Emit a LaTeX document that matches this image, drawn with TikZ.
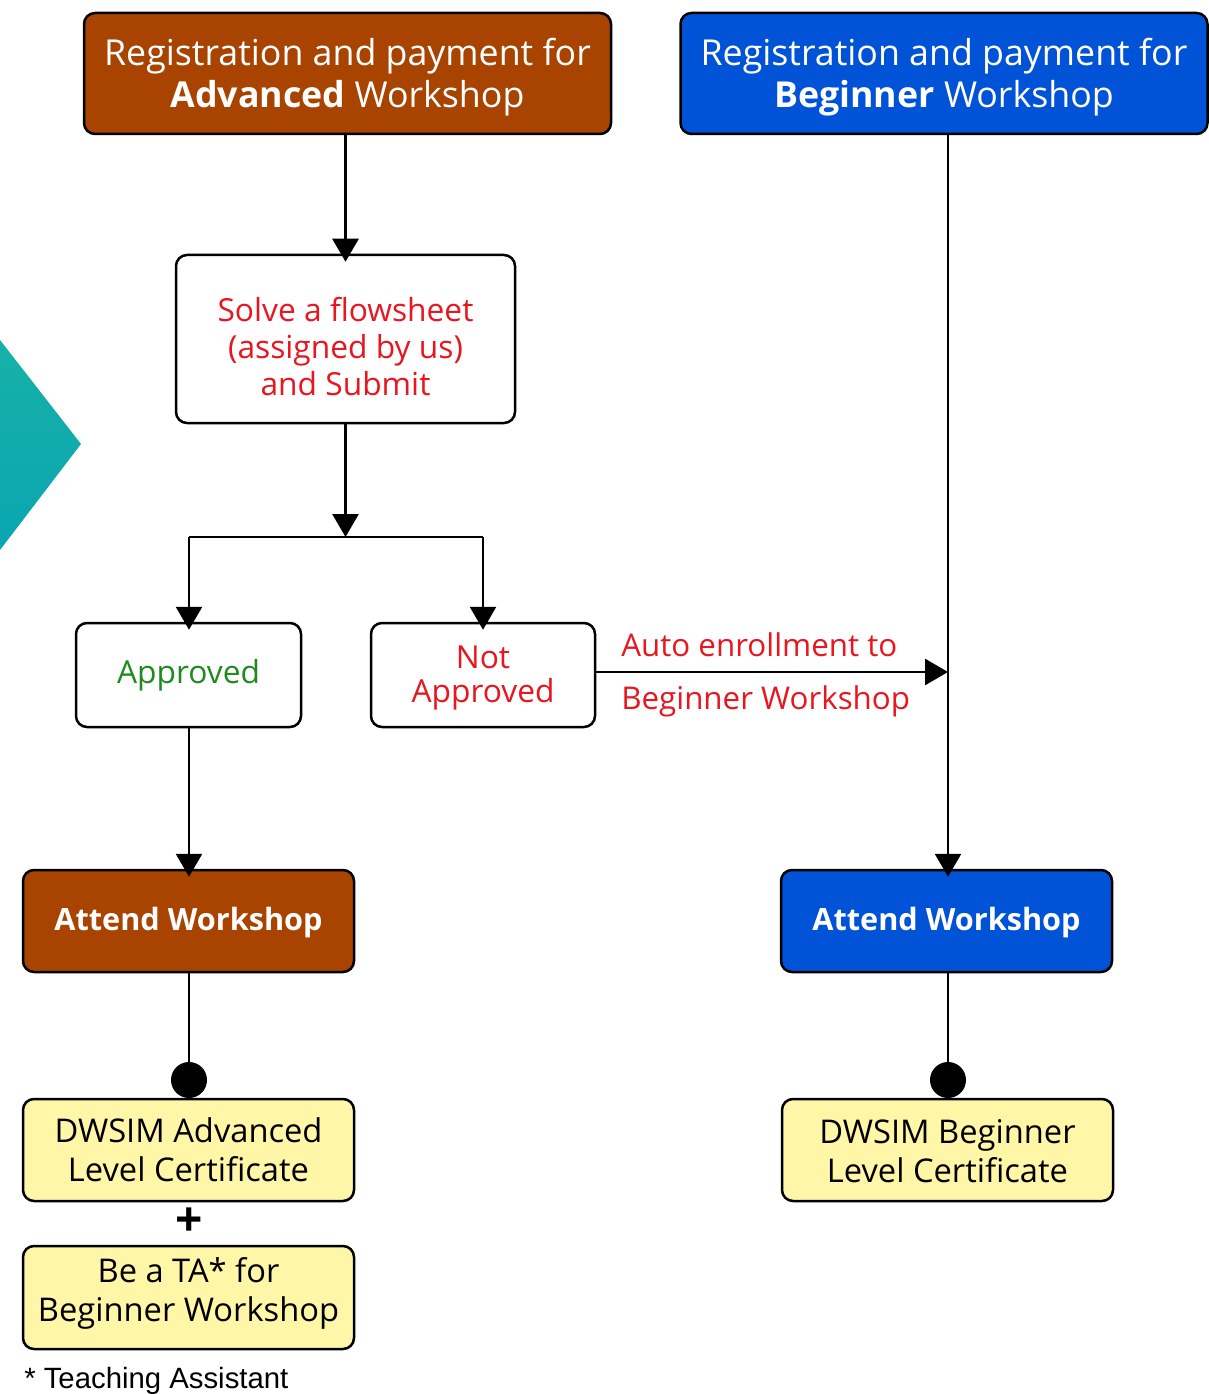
\documentclass[tikz,border=0pt]{standalone}
\usepackage{fontspec}
\setmainfont{Open Sans}
\newfontfamily\notefont{Liberation Sans}
\usetikzlibrary{arrows.meta}
\definecolor{advbrown}{HTML}{A84300}
\definecolor{begblue}{HTML}{0053D6}
\definecolor{certyellow}{HTML}{FFF6A8}
\definecolor{txtred}{HTML}{E8161E}
\definecolor{txtgreen}{HTML}{1F8B1F}
\definecolor{tealtop}{HTML}{16B1A6}
\definecolor{tealbot}{HTML}{0AA6B2}
\newcommand\pxu[1]{#1*0.75pt}
\newcommand\lowr[2]{\raisebox{-#1}[\height][\depth]{\begin{tabular}{@{}c@{}}#2\end{tabular}}}
\begin{document}
\begin{tikzpicture}[x=0.75pt,y=-0.75pt,
  box/.style={draw=black,line width=\pxu{2.5},rounded corners=\pxu{11},align=center,inner sep=0pt},
  titlebox/.style={box,minimum width=\pxu{527},minimum height=\pxu{121},text=white,font=\fontsize{26.8}{32}\selectfont},
  whitebox/.style={box,fill=white,font=\fontsize{23.8}{28}\selectfont},
  attendbox/.style={box,minimum width=\pxu{331},minimum height=\pxu{102},text=white,font=\fontsize{23}{27}\selectfont\bfseries},
  certbox/.style={box,fill=certyellow,minimum width=\pxu{331},minimum height=\pxu{102},font=\fontsize{24.5}{29}\selectfont},
  conn/.style={line width=\pxu{2.7},draw=black},
  arr/.style={conn,-{Triangle[width=\pxu{26},length=\pxu{23}]}},
  intobox/.style={arr,shorten >=-\pxu{8}},
  dot/.style={circle,fill=black,minimum size=\pxu{36},inner sep=0pt},
  lbl/.style={text=txtred,font=\fontsize{23.5}{27}\selectfont,inner sep=0pt,anchor=west}
]
\useasboundingbox (0,0) rectangle (1208,1394);
% teal decoration
\shade[top color=tealtop,bottom color=tealbot] (0,340) -- (81,444) -- (0,550) -- cycle;

\node[titlebox,fill=advbrown] (advreg) at (347.5,73.5) {\lowr{3.4pt}{Registration and payment for\\\textbf{Advanced} Workshop}};
\node[titlebox,fill=begblue] (begreg) at (944,73.5) {\lowr{3.4pt}{Registration and payment for\\\textbf{Beginner} Workshop}};

\node[whitebox,minimum width=\pxu{339},minimum height=\pxu{168},text=txtred] (solve) at (345.5,339) {\lowr{9pt}{Solve a flowsheet\\(assigned by us)\\and Submit}};

\coordinate (split) at (345.5,537);
\coordinate (splitL) at (189,537);
\coordinate (splitR) at (483,537);

\node[whitebox,minimum width=\pxu{225},minimum height=\pxu{104},text=txtgreen] (appr) at (188.5,675) {\lowr{0.5pt}{Approved}};
\node[whitebox,minimum width=\pxu{224},minimum height=\pxu{104},text=txtred,font=\fontsize{23.8}{25.5}\selectfont] (notappr) at (483,675) {\lowr{3pt}{Not\\Approved}};

\coordinate (merge) at (948,672);

\node[attendbox,fill=advbrown] (advatt) at (188.5,921) {\lowr{1.5pt}{Attend Workshop}};
\node[attendbox,fill=begblue] (begatt) at (946.5,921) {\lowr{1.5pt}{Attend Workshop}};

\node[dot] (dotA) at (189,1080) {};
\node[dot] (dotB) at (948,1080) {};

\node[certbox] (advcert) at (188.5,1150) {\lowr{3.4pt}{DWSIM Advanced\\Level Certificate}};
\node[font=\fontsize{36}{36}\selectfont\bfseries,inner sep=0pt] (plus) at (189,1222) {+};
\node[certbox,minimum height=\pxu{103}] (ta) at (188.5,1297.5) {\lowr{-2.2pt}{Be a TA* for\\Beginner Workshop}};
\node[certbox] (begcert) at (947.5,1150) {\lowr{4pt}{DWSIM Beginner\\Level Certificate}};

\node[font=\notefont\fontsize{22}{24}\selectfont,anchor=west,inner sep=0pt] (note) at (24,1381) {* Teaching Assistant};

\node[lbl] (lblA) at (621,645) {Auto enrollment to};
\node[lbl] (lblB) at (621,701) {Beginner Workshop};

% connectors
\draw[intobox] (advreg.south -| solve.north) -- (solve.north);
\draw[arr] (solve.south) -- (split);
\draw[conn] (splitL) -- (splitR);
\draw[intobox] (splitL) -- (appr.north -| splitL);
\draw[intobox] (splitR) -- (notappr.north);
\draw[arr] (notappr.east |- merge) -- (merge);
\draw[intobox] (begreg.south -| merge) -- (begatt.north -| merge);
\draw[intobox] (appr.south -| splitL) -- (advatt.north -| splitL);
\draw[conn] (advatt.south -| dotA) -- (dotA);
\draw[conn] (begatt.south -| dotB) -- (dotB);
\end{tikzpicture}
\end{document}
